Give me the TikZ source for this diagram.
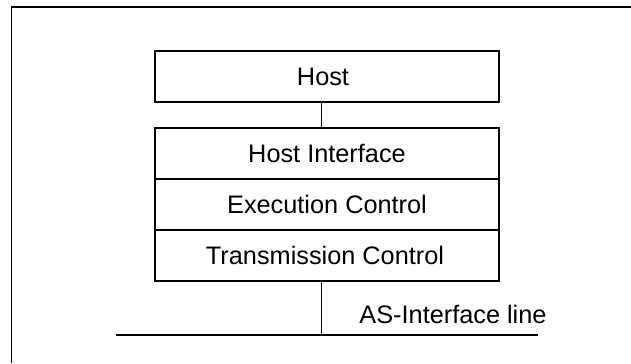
\documentclass[tikz,border=0pt]{standalone}
\usepackage{fontspec}
\setmainfont{Liberation Sans}
\begin{document}
\begin{tikzpicture}[x=1bp,y=-1bp,
  layerbox/.style={draw,line width=1.6bp,minimum width=344bp,minimum height=51bp,inner sep=0pt,
    font=\fontsize{25.4}{30}\selectfont},
  wire/.style={line width=1.3bp},
  frame/.style={line width=1.8bp},
  lbl/.style={font=\fontsize{25.4}{30}\selectfont,inner sep=0pt}]
\useasboundingbox (0,0) rectangle (631,363);
\draw[frame] (11.5,363) -- (11.5,7) -- (631,7);
\node[layerbox] (host) at (327,76.5) {\hspace*{-8bp}Host};
\node[layerbox] (hi) at (327,153.5) {Host Interface};
\node[layerbox] (ec) at (327,204.5) {Execution Control};
\node[layerbox] (tc) at (327,255.5) {\hspace*{-4bp}Transmission Control};
\coordinate (c1) at (321.5,0);
\coordinate (busL) at (116,335);
\coordinate (busR) at (538,335);
\draw[wire] (host.south -| c1) -- (hi.north -| c1);
\draw[wire] (busL) -- (busR);
\draw[wire] (tc.south -| c1) -- (busL -| c1);
\node[lbl] (asi) at (453,314) {AS-Interface line};
\end{tikzpicture}
\end{document}
